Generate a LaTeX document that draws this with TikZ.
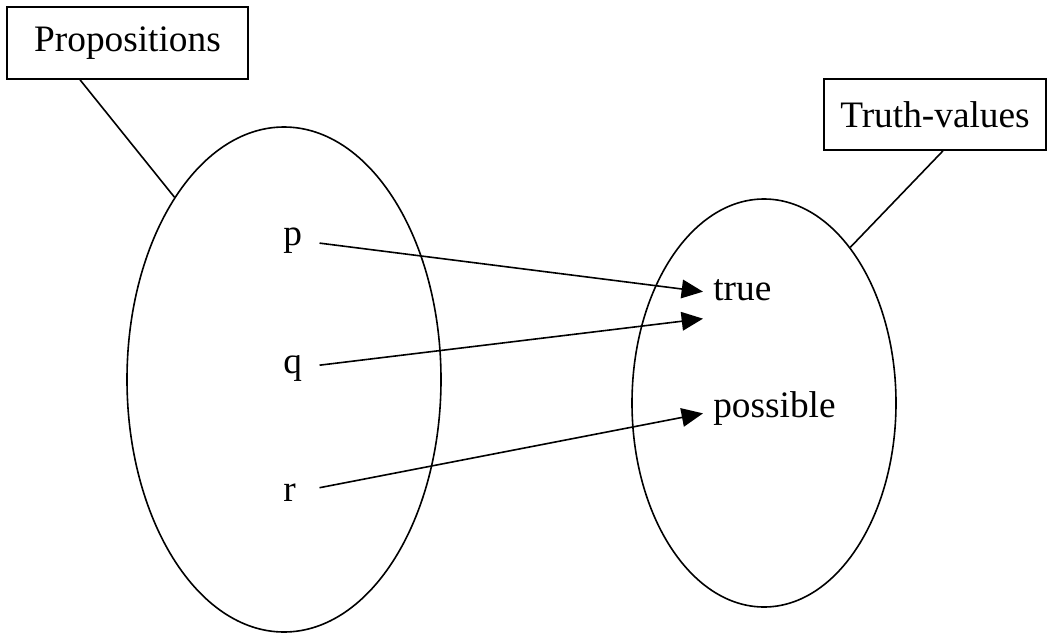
\documentclass[tikz,border=0pt]{standalone}
\usepackage{fontspec}
\setmainfont{Liberation Serif}
\usetikzlibrary{shapes.geometric,arrows.meta}

\begin{document}
\begin{tikzpicture}[
	x=0.75pt, y=-0.75pt,
	every node/.style={font=\fontsize{28}{34}\selectfont},
	label box/.style={
		draw, line width=1.2pt, rectangle, inner sep=0pt
	},
	set/.style={draw, line width=1.2pt, ellipse, inner sep=0pt},
	elem/.style={anchor=base west, inner sep=7.5pt},
	src/.style={elem, text width=19.5pt},
	arr/.style={-{Triangle[length=16pt,width=14pt]}, line width=1.2pt},
	lead/.style={line width=1.2pt},
	]
	\useasboundingbox (0,0) rectangle (1056,635);
	\def\sep{128}
	% the two sets
	\node[set, minimum width=235.5pt, minimum height=378.75pt] (props) at (284,379.5) {};
	\node[set, minimum width=198pt, minimum height=306pt] (values) at (764,403) {};
	% labels
	\node[label box, minimum width=180.75pt, minimum height=54pt] (propbox) at (127.5,43)
	{Propositions\hspace{10pt}};
	\node[label box, minimum width=166.5pt, minimum height=53.25pt] (valbox) at (935,114.5)
	{Truth-values};
	\draw[lead] ([xshift=-35.6pt]propbox.south) -- (props.121);
	\draw[lead] ([xshift=6pt]valbox.south) -- (values.61.4);
	% elements
	\node[src] (p) at (273, 245)         {p};
	\node[src] (q) at (273, 245+\sep)    {q};
	\node[src] (r) at (273, 245+2*\sep)  {r};
	\node[elem] (true)     at (703, 300) {true};
	\node[elem] (possible) at (703, 417) {possible};
	\draw[arr] (p) -- ([yshift=-1.5pt]true.west);
	\draw[arr] (q) -- ([yshift=-21.75pt]true.west);
	\draw[arr] (r) -- ([yshift=-4pt]possible.west);
\end{tikzpicture}
\end{document}
